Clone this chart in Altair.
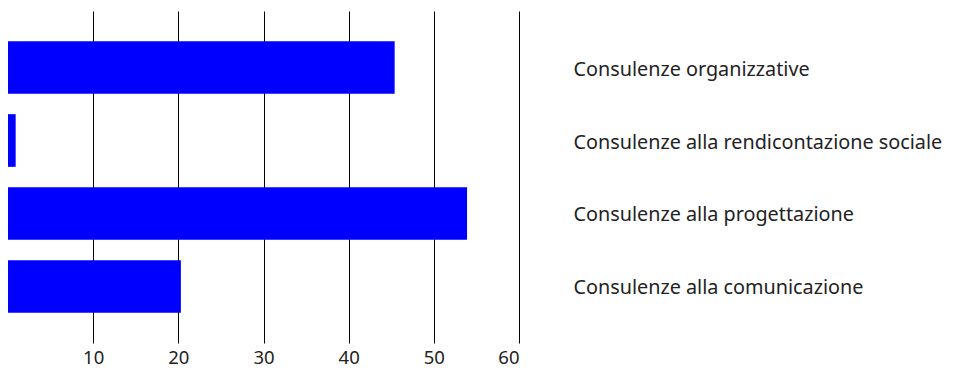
import altair as alt
import pandas as pd

categories = [
    "Consulenze organizzative",
    "Consulenze alla rendicontazione sociale",
    "Consulenze alla progettazione",
    "Consulenze alla comunicazione",
]
values = [45.4, 0.9, 53.9, 20.3]
x_ticks = [10, 20, 30, 40, 50, 60]

df = pd.DataFrame({"cat": categories, "val": values})

FONT = "Noto Sans"

chart = (
    alt.Chart(df)
    .mark_bar(color="#0000FF")
    .encode(
        x=alt.X(
            "val:Q",
            scale=alt.Scale(domain=[0, 60], nice=False, zero=True),
            axis=alt.Axis(
                values=x_ticks,
                title=None,
                grid=True,
                gridColor="#000000",
                gridOpacity=1,
                gridWidth=1,
                domain=False,
                ticks=False,
                labelPadding=5,
                labelFontSize=18.5,
                labelFont=FONT,
                labelColor="#222222",
            ),
        ),
        y=alt.Y(
            "cat:N",
            sort=categories,
            scale=alt.Scale(paddingInner=0.278, paddingOuter=0.413),
            axis=alt.Axis(
                orient="right",
                title=None,
                domain=False,
                ticks=False,
                grid=False,
                labelPadding=54,
                labelAlign="left",
                labelBaseline="middle",
                labelOffset=2,
                labelFontSize=19.8,
                labelFont=FONT,
                labelColor="#222222",
                labelLimit=0,
            ),
        ),
    )
    .properties(
        width=511,
        height=332,
        padding={"left": 0, "top": 3, "right": 0, "bottom": 0},
    )
    .configure_view(stroke=None)
)

chart.save("out.html", embed_options={"renderer": "svg", "actions": False})
